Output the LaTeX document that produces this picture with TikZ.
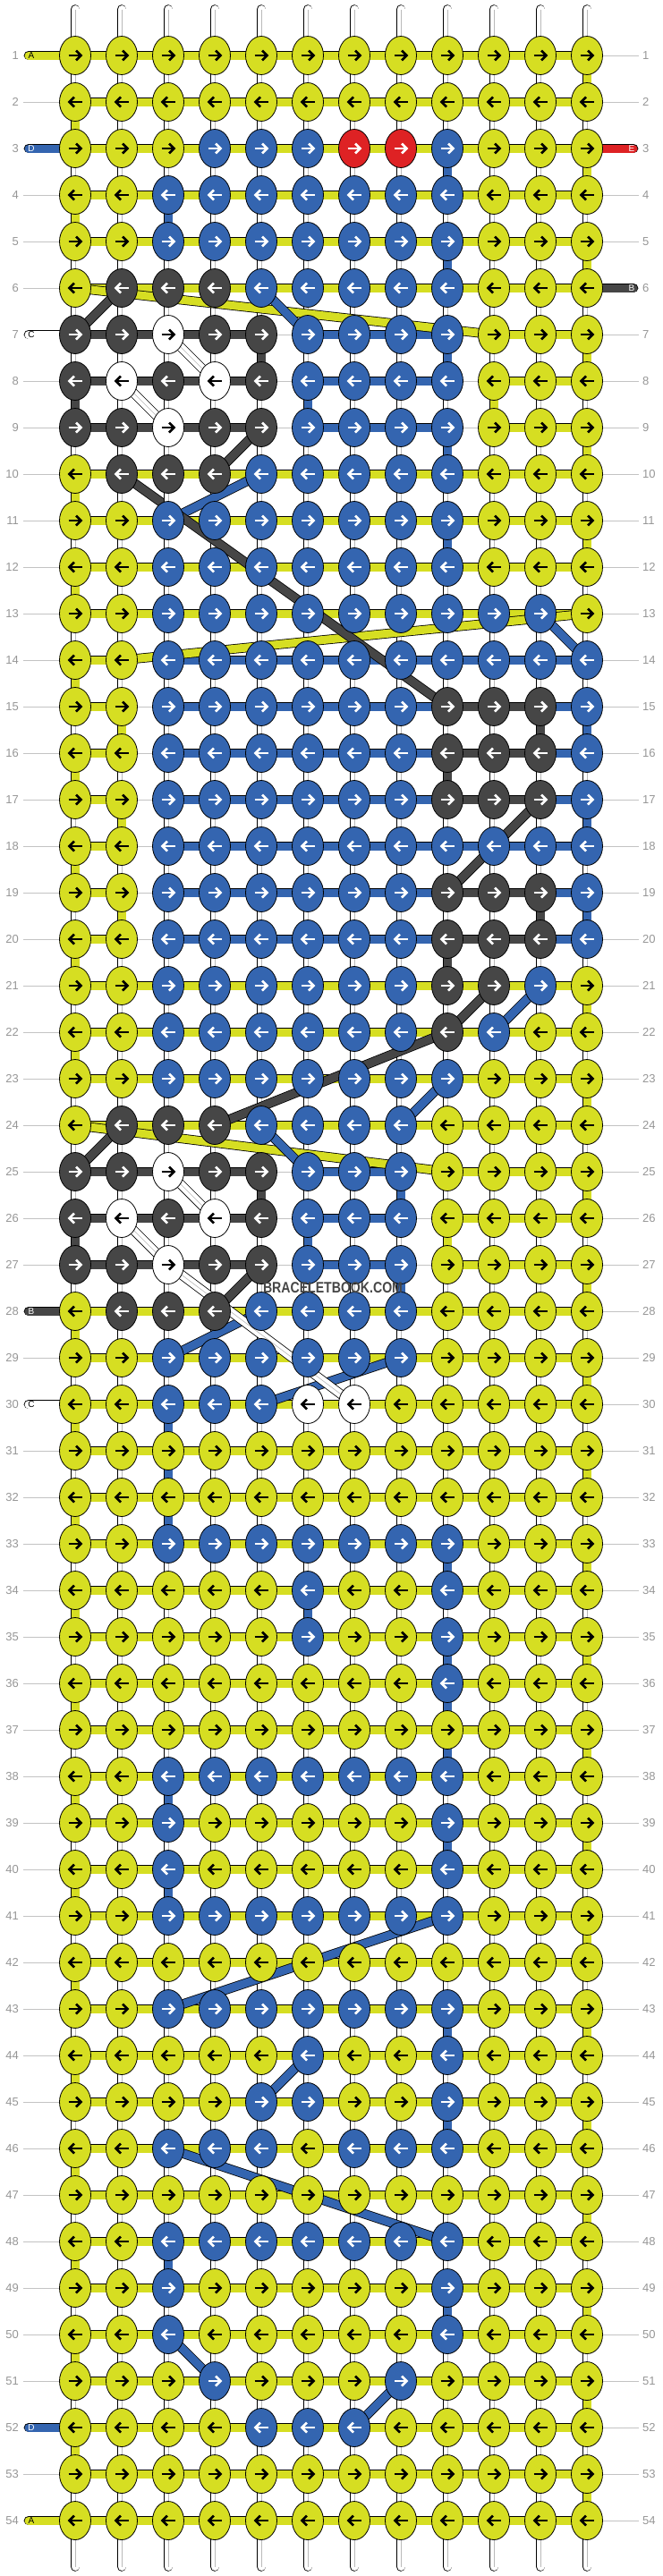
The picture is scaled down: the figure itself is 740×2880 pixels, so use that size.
\documentclass[tikz,border=0pt]{standalone}
\usepackage{fontspec}
\setmainfont{Liberation Sans}
\usepackage{xstring}
\usetikzlibrary{shapes.geometric}

\definecolor{tY}{RGB}{214,222,34}
\definecolor{tB}{RGB}{52,101,176}
\definecolor{tK}{RGB}{70,70,70}
\definecolor{tW}{RGB}{255,255,255}
\definecolor{tR}{RGB}{222,34,36}
\colorlet{aY}{black}
\colorlet{aB}{white}
\colorlet{aK}{white}
\colorlet{aW}{black}
\colorlet{aR}{white}
\definecolor{rowgray}{RGB}{195,195,195}
\definecolor{numgray}{RGB}{150,150,150}

\def\nothread{N}

\begin{document}
\begin{tikzpicture}[x=1pt, y=-1pt, line join=round,
    knot/.style={ellipse, draw=black, line width=0.8pt, minimum width=35pt, minimum height=43pt, inner sep=0pt},
    band/.style={draw=black, line width=0.8pt, double distance=9pt},
    strand/.style={band, double=white, line cap=round},
    core/.style={draw=gray!55, line width=0.6pt},
    rowline/.style={draw=rowgray, line width=0.8pt},
    rownum/.style={text=numgray, font=\fontsize{13}{13}\selectfont, inner sep=0pt},
    capletter/.style={font=\fontsize{10}{10}\selectfont, inner sep=0pt},
    arrowR/.pic={
      \draw[line width=2.6pt] (-7.5,0) -- (5.5,0);
      \draw[line width=2.6pt, line join=miter] (1,-5.5) -- (6.5,0) -- (1,5.5);
    }]

  % --- Parameter ---
  \pgfmathsetmacro{\xA}{84}   % first column
  \pgfmathsetmacro{\yA}{62}   % first row
  \pgfmathsetmacro{\gap}{52}  % knot spacing

  \useasboundingbox (0,0) rectangle (740,2880);

  % --- knot positions ---
  \foreach \rw in {1,...,54}
    \foreach \cl in {1,...,12}
      \coordinate (p-\rw-\cl) at ({\xA+\gap*(\cl-1)},{\yA+\gap*(\rw-1)});

  % --- row guide lines ---
  \foreach \rw in {1,...,54} {
    \coordinate (l-\rw) at (26,{\yA+\gap*(\rw-1)});
    \coordinate (rr-\rw) at (714,{\yA+\gap*(\rw-1)});
    \draw[rowline] (l-\rw) -- (rr-\rw);
  }

  % --- white strands ---
  \foreach \cl in {1,...,12} {
    \coordinate (top-\cl) at ({\xA+\gap*(\cl-1)},10.5);
    \coordinate (bot-\cl) at ({\xA+\gap*(\cl-1)},2869.5);
    \draw[strand] (top-\cl) -- (bot-\cl);
    \draw[core] (top-\cl) -- (bot-\cl);
  }

  % --- horizontal threads (N = none) ---
  \foreach \sg [count=\rw] in {
      YYYYYYYYYYY,YYYYYYYYYYY,YYYYYYYYYYY,YYYYYYYYYYY,YYYYYYYYYYY,YYYYYYYYYYY,
      KKKKNBBBNYY,KKKKNBBBNYY,KKKKNBBBNYY,YYYYYYYYYYY,YYYYYYYYYYY,YYYYYYYYYYY,
      YYYYYYYYYYY,YNBBBBBBBBB,YNBBBBBBKKB,YNBBBBBBKKB,YNBBBBBBKKB,YNBBBBBBBBB,
      YNBBBBBBKKB,YNBBBBBBKKB,YYYYYYYYYYY,YYYYYYYYYYY,YYYYYYYYYYY,YYYYYYYYYYY,
      KKKKNBBNYYY,KKKKNBBNYYY,KKKKNBBNYYY,YYYYYYYYYYY,YYYYYYYYYYY,YYYYYYYYYYY,
      YYYYYYYYYYY,YYYYYYYYYYY,YYYYYYYYYYY,YYYYYYYYYYY,YYYYYYYYYYY,YYYYYYYYYYY,
      YYYYYYYYYYY,YYYYYYYYYYY,YYYYYYYYYYY,YYYYYYYYYYY,YYYYYYYYYYY,YYYYYYYYYYY,
      YYYYYYYYYYY,YYYYYYYYYYY,YYYYYYYYYYY,YYYYYYYYYYY,YYYYYYYYYYY,YYYYYYYYYYY,
      YYYYYYYYYYY,YYYYYYYYYYY,YYYYYYYYYYY,YYYYYYYYYYY,YYYYYYYYYYY,YYYYYYYYYYY} {
    \foreach \cl in {1,...,11} {
      \StrChar{\sg}{\cl}[\ch]
      \pgfmathtruncatemacro{\nx}{\cl+1}
      \ifx\ch\nothread\else
        \draw[band, double=t\ch] (p-\rw-\cl) -- (p-\rw-\nx);
      \fi
    }
  }

  % --- thread ends ---
  \foreach \rw/\t/\lab/\tc in {1/Y/A/black, 3/B/D/white, 7/W/C/black, 28/K/B/white,
                               30/W/C/black, 52/B/D/white, 54/Y/A/black} {
    \coordinate (capL-\rw) at (32,{\yA+\gap*(\rw-1)});
    \draw[band, double=t\t, line cap=round] (capL-\rw) -- (p-\rw-1);
    \node[capletter, text=\tc] (labL-\rw) at ([xshift=3pt]capL-\rw) {\lab};
  }
  \foreach \rw/\t/\lab in {3/R/E, 6/K/B} {
    \coordinate (capR-\rw) at (708,{\yA+\gap*(\rw-1)});
    \draw[band, double=t\t, line cap=round] (p-\rw-12) -- (capR-\rw);
    \node[capletter, text=white] (labR-\rw) at ([xshift=-2pt]capR-\rw) {\lab};
  }

  % --- turns of the yellow thread ---
  \foreach \rw in {1,3,5,7,9,11,21,23,...,53} {
    \pgfmathtruncatemacro{\nx}{\rw+1}
    \draw[band, double=tY] (p-\rw-12) -- (p-\nx-12);
  }
  \foreach \rw in {2,4,10,12,...,22,28,30,...,52} {
    \pgfmathtruncatemacro{\nx}{\rw+1}
    \draw[band, double=tY] (p-\rw-1) -- (p-\nx-1);
  }

  % --- carried threads (row/col to row/col) ---
  \foreach \ra/\ca/\rb/\cb/\t in {
      8/10/9/10/Y, 15/2/16/2/Y, 17/2/18/2/Y, 19/2/20/2/Y, 26/9/27/9/Y,
      6/1/7/10/Y, 13/12/14/2/Y, 24/1/25/9/Y,
      3/9/4/9/B, 4/3/5/3/B, 5/9/6/9/B, 7/9/8/9/B, 8/6/9/6/B, 9/9/10/9/B,
      11/9/12/9/B, 12/3/13/3/B, 14/3/15/3/B, 15/12/16/12/B, 16/3/17/3/B,
      17/12/18/12/B, 18/3/19/3/B, 19/12/20/12/B, 20/3/21/3/B, 22/3/23/3/B,
      25/8/26/8/B, 26/6/27/6/B, 27/8/28/8/B, 30/3/33/3/B, 33/9/34/9/B,
      34/6/35/6/B, 35/9/36/9/B, 36/9/38/9/B, 38/3/39/3/B, 39/9/40/9/B,
      40/3/41/3/B, 43/9/44/9/B, 45/9/46/9/B, 48/3/49/3/B, 49/9/50/9/B,
      6/5/7/6/B, 10/5/11/3/B, 13/11/14/12/B, 21/11/22/10/B, 23/9/24/8/B,
      24/5/25/6/B, 28/5/29/3/B, 29/8/30/5/B, 41/9/43/3/B, 44/6/45/5/B,
      46/3/48/9/B, 50/3/51/4/B, 51/8/52/7/B,
      7/5/8/5/K, 8/1/9/1/K, 15/11/16/11/K, 16/9/17/9/K, 19/11/20/11/K,
      20/9/21/9/K, 25/5/26/5/K, 26/1/27/1/K,
      6/2/7/1/K, 9/5/10/4/K, 10/2/15/9/K, 17/11/19/9/K, 21/10/22/9/K,
      22/9/24/4/K, 24/2/25/1/K, 27/5/28/4/K} {
    \draw[band, double=t\t] (p-\ra-\ca) -- (p-\rb-\cb);
  }
  % white thread on top
  \foreach \ra/\ca/\rb/\cb in {7/3/8/4, 8/2/9/3, 9/3/25/3, 25/3/26/4, 26/2/27/3, 27/3/30/7} {
    \draw[band, double=white] (p-\ra-\ca) -- (p-\rb-\cb);
    \draw[core] (p-\ra-\ca) -- (p-\rb-\cb);
  }

  % --- knots ---
  \foreach \kn [count=\rw] in {
      YYYYYYYYYYYY,YYYYYYYYYYYY,YYYBBBRRBYYY,YYBBBBBBBYYY,YYBBBBBBBYYY,YKKKBBBBBYYY,
      KKWKKBBBBYYY,KWKWKBBBBYYY,KKWKKBBBBYYY,YKKKBBBBBYYY,YYBBBBBBBYYY,YYBBBBBBBYYY,
      YYBBBBBBBBBY,YYBBBBBBBBBB,YYBBBBBBKKKB,YYBBBBBBKKKB,YYBBBBBBKKKB,YYBBBBBBBBBB,
      YYBBBBBBKKKB,YYBBBBBBKKKB,YYBBBBBBKKBY,YYBBBBBBKBYY,YYBBBBBBBYYY,YKKKBBBBYYYY,
      KKWKKBBBYYYY,KWKWKBBBYYYY,KKWKKBBBYYYY,YKKKBBBBYYYY,YYBBBBBBYYYY,YYBBBWWYYYYY,
      YYYYYYYYYYYY,YYYYYYYYYYYY,YYBBBBBBBYYY,YYYYYBYYBYYY,YYYYYBYYBYYY,YYYYYYYYBYYY,
      YYYYYYYYYYYY,YYBBBBBBBYYY,YYBYYYYYBYYY,YYBYYYYYBYYY,YYBBBBBBBYYY,YYYYYYYYYYYY,
      YYBBBBBBBYYY,YYYYYBYYBYYY,YYYYBBYYBYYY,YYBBBYBBBYYY,YYYYYYYYYYYY,YYBBBBBBBYYY,
      YYBYYYYYBYYY,YYBYYYYYBYYY,YYYBYYYBYYYY,YYYYBBBYYYYY,YYYYYYYYYYYY,YYYYYYYYYYYY} {
    \foreach \cl in {1,...,12} {
      \StrChar{\kn}{\cl}[\ch]
      \node[knot, fill=t\ch] (k-\rw-\cl) at (p-\rw-\cl) {};
      \ifodd\rw\relax
        \pic[color=a\ch] at (k-\rw-\cl) {arrowR};
      \else
        \pic[color=a\ch, xscale=-1] at (k-\rw-\cl) {arrowR};
      \fi
    }
  }

  % --- row numbers ---
  \foreach \rw in {1,...,54} {
    \node[rownum, anchor=east] (nl-\rw) at ([xshift=-5pt]l-\rw) {\rw};
    \node[rownum, anchor=west] (nr-\rw) at ([xshift=4pt]rr-\rw) {\rw};
  }

  % --- watermark ---
  \node[text=tK, font=\fontsize{17}{17}\selectfont\bfseries, inner sep=0pt] (mark) at (372,1440)
    {\scalebox{0.83}[1]{BRACELETBOOK.COM}};

\end{tikzpicture}
\end{document}
